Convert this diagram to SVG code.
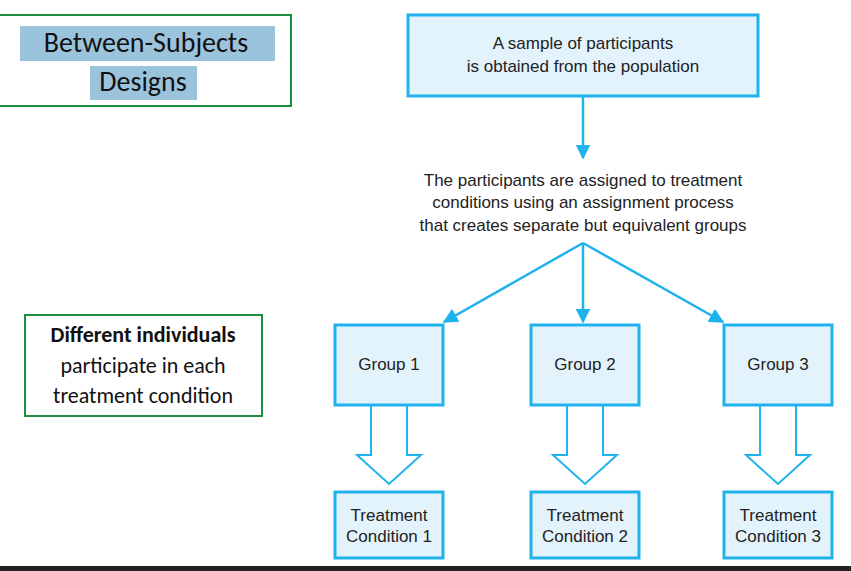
<svg xmlns="http://www.w3.org/2000/svg" width="851" height="571" viewBox="0 0 851 571">
<style>
.bx{fill:#e3f3fc;stroke:#1fb2ec;stroke-width:3}
.t{font-family:"Liberation Sans",Arial,sans-serif;font-size:17px;fill:#222;text-anchor:middle}
.c{font-family:Carlito,"Liberation Sans",sans-serif;text-anchor:middle;fill:#111}
.ln{stroke:#1fb2ec;stroke-width:2.5;fill:none}
.ha{fill:#fff;stroke:#1fb2ec;stroke-width:2}
.gb{fill:#fff;stroke:#1e8f3e;stroke-width:2}
</style>
<defs><marker id="ah" viewBox="0 0 10 10" refX="9" refY="5" markerWidth="6" markerHeight="6" orient="auto"><path d="M0,0 L10,5 L0,10 z" fill="#1fb2ec"/></marker></defs>
<rect width="851" height="571" fill="#fff"/>
<g id="title"><rect class="gb" x="-2" y="15" width="293" height="91"/>
<rect x="20" y="26" width="255" height="35" fill="#9cc3dc"/><rect x="90" y="66" width="107" height="34" fill="#9cc3dc"/>
<text class="c" x="146" y="52" font-size="28">Between-Subjects</text><text class="c" x="143" y="91" font-size="28">Designs</text></g>
<g id="note"><rect class="gb" x="25" y="315" width="237" height="101"/>
<text class="c" x="143" y="342" font-size="22" font-weight="bold">Different individuals</text>
<text class="c" x="143" y="373" font-size="22">participate in each</text>
<text class="c" x="143" y="403" font-size="22">treatment condition</text></g>
<g id="sample"><rect class="bx" x="408" y="15" width="350" height="81"/>
<text class="t" x="583" y="49">A sample of participants</text><text class="t" x="583" y="72">is obtained from the population</text></g>
<g id="assign"><text class="t" x="583" y="186">The participants are assigned to treatment</text>
<text class="t" x="583" y="208">conditions using an assignment process</text>
<text class="t" x="583" y="231">that creates separate but equivalent groups</text></g>
<g id="connectors">
<line class="ln" x1="583" y1="96" x2="583" y2="158" marker-end="url(#ah)"/>
<line class="ln" x1="583" y1="243" x2="444" y2="322" marker-end="url(#ah)"/>
<line class="ln" x1="583" y1="243" x2="583" y2="322" marker-end="url(#ah)"/>
<line class="ln" x1="583" y1="243" x2="723" y2="322" marker-end="url(#ah)"/>
<path class="ha" d="M371,405 V455 H357 L389,484 L421,455 H407 V405"/>
<path class="ha" d="M567,405 V455 H553 L585,484 L617,455 H603 V405"/>
<path class="ha" d="M760,405 V455 H746 L778,484 L810,455 H796 V405"/>
</g>
<g id="g1"><rect class="bx" x="335" y="325" width="108" height="80"/><text class="t" x="389" y="370">Group 1</text></g>
<g id="g2"><rect class="bx" x="531" y="325" width="108" height="80"/><text class="t" x="585" y="370">Group 2</text></g>
<g id="g3"><rect class="bx" x="724" y="325" width="108" height="80"/><text class="t" x="778" y="370">Group 3</text></g>
<g id="t1"><rect class="bx" x="335" y="492" width="108" height="66"/><text class="t" x="389" y="521">Treatment</text><text class="t" x="389" y="542">Condition 1</text></g>
<g id="t2"><rect class="bx" x="531" y="492" width="108" height="66"/><text class="t" x="585" y="521">Treatment</text><text class="t" x="585" y="542">Condition 2</text></g>
<g id="t3"><rect class="bx" x="724" y="492" width="108" height="66"/><text class="t" x="778" y="521">Treatment</text><text class="t" x="778" y="542">Condition 3</text></g>
<rect x="0" y="566" width="851" height="5" fill="#222"/>
</svg>
